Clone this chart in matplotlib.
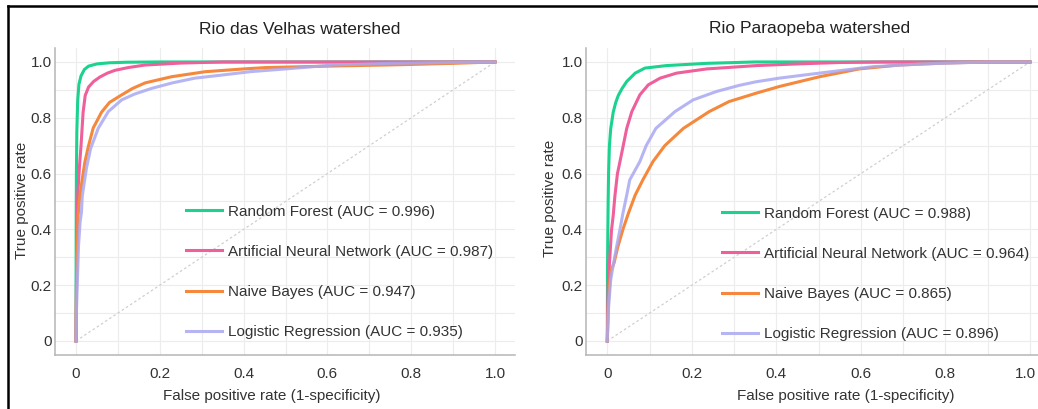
import matplotlib
matplotlib.use("Agg")
import matplotlib.pyplot as plt
from matplotlib.lines import Line2D
from matplotlib.transforms import ScaledTranslation
from matplotlib.ticker import MultipleLocator, FixedLocator, FixedFormatter

plt.rcParams["font.family"] = ["Liberation Sans", "DejaVu Sans"]

# ---- ROC data: Rio das Velhas watershed ----
velhas_rf_fpr = [0, 0.0005, 0.001, 0.002, 0.004, 0.007, 0.012, 0.02, 0.03, 0.05, 0.08, 0.12, 0.2, 0.35, 1.0]
velhas_rf_tpr = [0, 0.45, 0.6, 0.75, 0.86, 0.92, 0.95, 0.973, 0.985, 0.993, 0.997, 0.999, 1.0, 1.0, 1.0]

velhas_ann_fpr = [0, 0.001, 0.002, 0.004, 0.008, 0.012, 0.017, 0.022, 0.03, 0.042, 0.057, 0.075, 0.093, 0.125, 0.165, 0.25, 0.35, 1.0]
velhas_ann_tpr = [0, 0.2, 0.35, 0.52, 0.62, 0.70, 0.82, 0.88, 0.91, 0.93, 0.946, 0.96, 0.97, 0.98, 0.989, 0.996, 1.0, 1.0]

velhas_nb_fpr = [0, 0.001, 0.002, 0.005, 0.009, 0.012, 0.021, 0.03, 0.041, 0.061, 0.08, 0.109, 0.135, 0.165, 0.228, 0.308, 0.4, 0.455, 0.6, 0.77, 0.9, 1.0]
velhas_nb_tpr = [0, 0.15, 0.3, 0.45, 0.52, 0.55, 0.64, 0.70, 0.763, 0.82, 0.855, 0.882, 0.905, 0.925, 0.947, 0.965, 0.975, 0.98, 0.985, 0.99, 0.995, 1.0]

velhas_lr_fpr = [0, 0.001, 0.003, 0.006, 0.01, 0.013, 0.015, 0.021, 0.025, 0.035, 0.053, 0.077, 0.109, 0.14, 0.18, 0.23, 0.284, 0.348, 0.415, 0.5, 0.614, 0.75, 0.9, 1.0]
velhas_lr_tpr = [0, 0.1, 0.2, 0.34, 0.43, 0.46, 0.52, 0.58, 0.62, 0.69, 0.762, 0.822, 0.864, 0.885, 0.905, 0.925, 0.942, 0.953, 0.965, 0.975, 0.989, 0.995, 0.998, 1.0]

# ---- ROC data: Rio Paraopeba watershed ----
para_rf_fpr = [0, 0.0005, 0.001, 0.002, 0.003, 0.005, 0.008, 0.014, 0.02, 0.026, 0.035, 0.046, 0.066, 0.089, 0.14, 0.235, 0.35, 1.0]
para_rf_tpr = [0, 0.25, 0.35, 0.5, 0.6, 0.70, 0.76, 0.82, 0.855, 0.88, 0.905, 0.93, 0.96, 0.978, 0.987, 0.995, 1.0, 1.0]

para_ann_fpr = [0, 0.001, 0.002, 0.006, 0.01, 0.014, 0.018, 0.024, 0.03, 0.046, 0.058, 0.077, 0.097, 0.125, 0.164, 0.235, 0.353, 0.45, 0.549, 0.65, 1.0]
para_ann_tpr = [0, 0.1, 0.2, 0.3, 0.398, 0.45, 0.52, 0.6, 0.643, 0.762, 0.822, 0.882, 0.918, 0.942, 0.96, 0.975, 0.987, 0.993, 0.998, 1.0, 1.0]

para_nb_fpr = [0, 0.003, 0.008, 0.016, 0.025, 0.037, 0.05, 0.066, 0.084, 0.108, 0.136, 0.18, 0.241, 0.288, 0.352, 0.407, 0.502, 0.596, 0.691, 0.8, 0.9, 1.0]
para_nb_tpr = [0, 0.15, 0.25, 0.28, 0.338, 0.40, 0.458, 0.523, 0.577, 0.643, 0.70, 0.762, 0.822, 0.858, 0.888, 0.912, 0.947, 0.975, 0.989, 0.996, 1.0, 1.0]

para_lr_fpr = [0, 0.002, 0.008, 0.015, 0.022, 0.03, 0.037, 0.046, 0.053, 0.065, 0.077, 0.092, 0.115, 0.16, 0.203, 0.258, 0.312, 0.352, 0.407, 0.502, 0.628, 0.745, 0.9, 1.0]
para_lr_tpr = [0, 0.1, 0.219, 0.28, 0.338, 0.4, 0.458, 0.523, 0.577, 0.61, 0.643, 0.70, 0.762, 0.822, 0.864, 0.894, 0.916, 0.929, 0.942, 0.96, 0.983, 0.993, 1.0, 1.0]

chance = [0, 1]

model_names = ["Random Forest", "Artificial Neural Network", "Naive Bayes", "Logistic Regression"]
velhas_auc = [0.996, 0.987, 0.947, 0.935]
para_auc = [0.988, 0.964, 0.865, 0.896]
panel_titles = ["Rio das Velhas watershed", "Rio Paraopeba watershed"]
tick_values = [0, 0.2, 0.4, 0.6, 0.8, 1.0]
tick_labels = ["0", "0.2", "0.4", "0.6", "0.8", "1.0"]

colors = ["#1bd28f", "#ee5f9c", "#f5883c", "#aaa8f2"]
TEXT = "#333333"

W, H = 1038, 409
fig = plt.figure(figsize=(W / 100, H / 100), dpi=100)


def fx(px):
    return px / W


def fy(py):
    return 1 - py / H


ax_l = fig.add_axes([fx(55), fy(355), fx(460), 307 / H])
ax_r = fig.add_axes([fx(586), fy(355), fx(452), 307 / H])

panels = [
    (ax_l, [(velhas_rf_fpr, velhas_rf_tpr), (velhas_ann_fpr, velhas_ann_tpr),
            (velhas_nb_fpr, velhas_nb_tpr), (velhas_lr_fpr, velhas_lr_tpr)], velhas_auc,
     (-0.0501, 1.0477)),
    (ax_r, [(para_rf_fpr, para_rf_tpr), (para_ann_fpr, para_ann_tpr),
            (para_nb_fpr, para_nb_tpr), (para_lr_fpr, para_lr_tpr)], para_auc,
     (-0.0504, 1.019)),
]

for ax, curves, aucs, xlim in panels:
    ax.set_xlim(*xlim)
    ax.set_ylim(-0.0502, 1.050)
    ax.plot(chance, chance, color="#cfcfcf", lw=0.9, ls=(0, (2, 2)), zorder=1)
    for (fpr, tpr), name, auc, c in zip(curves, model_names, aucs, colors):
        alpha = 0.85 if c == colors[3] else 1.0
        ax.plot(fpr, tpr, color=c, lw=2.2, alpha=alpha,
                label=f"{name} (AUC = {auc:.3f})", zorder=2)

    ax.xaxis.set_major_locator(FixedLocator(tick_values))
    ax.xaxis.set_major_formatter(FixedFormatter(tick_labels))
    ax.yaxis.set_major_locator(FixedLocator(tick_values))
    ax.yaxis.set_major_formatter(FixedFormatter(tick_labels))
    ax.xaxis.set_minor_locator(MultipleLocator(0.1))
    ax.yaxis.set_minor_locator(MultipleLocator(0.1))
    ax.grid(which="both", color="#ececec", lw=0.8, zorder=0)
    ax.set_axisbelow(True)
    ax.tick_params(which="both", length=0, labelsize=11, colors=TEXT)
    ax.tick_params(axis="x", pad=9)
    ax.tick_params(axis="y", pad=2.5)
    for side in ("top", "right"):
        ax.spines[side].set_visible(False)
    for side in ("left", "bottom"):
        ax.spines[side].set_color("#b5b5b5")
        ax.spines[side].set_linewidth(1.1)
    ax.set_xlabel("False positive rate (1-specificity)", fontsize=11, color=TEXT)
    ax.set_ylabel("True positive rate", fontsize=11, color=TEXT)

ax_l.xaxis.set_label_coords(0.471, -0.112)
ax_r.xaxis.set_label_coords(0.575, -0.112)
ax_l.yaxis.set_label_coords(-0.0565, 0.505)
ax_r.yaxis.set_label_coords(-0.064, 0.51)

# keep the last tick label of the right panel inside the canvas
fig.canvas.draw()
last = ax_r.xaxis.get_majorticklabels()[-1]
last.set_horizontalalignment("right")
last.set_transform(last.get_transform() + ScaledTranslation(6 / 100, 0, fig.dpi_scale_trans))

leg_kw = dict(loc="upper left", frameon=False, fontsize=11, borderpad=0,
              borderaxespad=0, handlelength=2.35, handletextpad=0.4,
              labelspacing=1.71, labelcolor=TEXT)
ax_l.legend(bbox_to_anchor=((186 - 55) / 460, (355 - 204.6) / 307), **leg_kw)
ax_r.legend(bbox_to_anchor=((722 - 586) / 452, (355 - 206.6) / 307), **leg_kw)

fig.text(fx(300), fy(29), panel_titles[0], ha="center", va="center",
         fontsize=12.5, color="#222222")
fig.text(fx(810), fy(29), panel_titles[1], ha="center", va="center",
         fontsize=12.5, color="#222222")

# thin black frame around the figure
fig.add_artist(Line2D([fx(7.5), fx(7.5)], [fy(5.5), 0], transform=fig.transFigure,
                      color="black", lw=1.8))
fig.add_artist(Line2D([fx(7.5), 1], [fy(5.5), fy(5.5)], transform=fig.transFigure,
                      color="black", lw=1.8))

fig.savefig("out.png", dpi=100, facecolor="white")
